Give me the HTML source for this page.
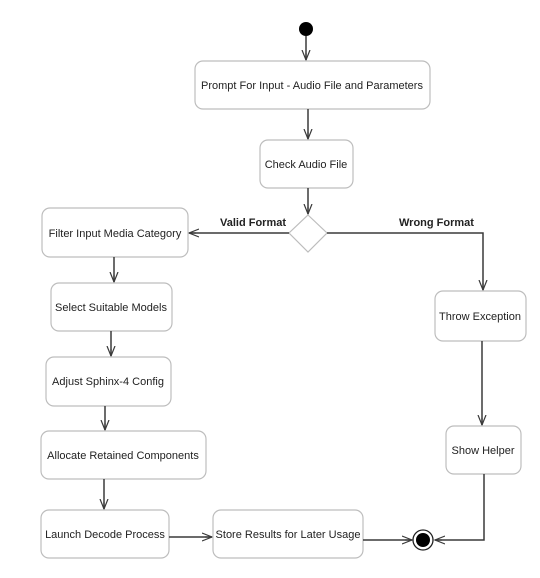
<!DOCTYPE html>
<html><head><meta charset="utf-8"><style>
html,body{margin:0;padding:0;background:#fff;}
svg{display:block;}
text{font-family:"Liberation Sans",sans-serif;font-size:11px;fill:#222;}
.b{fill:#fff;stroke:#bdbdbd;stroke-width:1.2;}
.l{stroke:#3a3a3a;stroke-width:1.5;fill:none;}
</style></head><body>
<svg width="540" height="578" viewBox="0 0 540 578">
<defs>
<marker id="a" markerWidth="12" markerHeight="10" refX="10" refY="5" orient="auto" markerUnits="userSpaceOnUse">
<path d="M0,1 L10,5 L0,9 M3,5 L10,5" stroke="#3a3a3a" stroke-width="1.2" fill="none"/>
</marker>
</defs>
<rect width="540" height="578" fill="#fff"/>
<!-- start -->
<circle cx="306" cy="29" r="7" fill="#000"/>
<path class="l" d="M306,36 V60" marker-end="url(#a)"/>
<!-- boxes -->
<rect class="b" x="195" y="61" width="235" height="48" rx="8"/>
<text x="312" y="89" text-anchor="middle">Prompt For Input - Audio File and Parameters</text>
<path class="l" d="M308,109 V139" marker-end="url(#a)"/>
<rect class="b" x="260" y="140" width="93" height="48" rx="8"/>
<text x="306" y="168" text-anchor="middle">Check Audio File</text>
<path class="l" d="M308,188 V214" marker-end="url(#a)"/>
<polygon points="308,215 327,233 308,252 289,233" fill="#fff" stroke="#bdbdbd" stroke-width="1.2"/>
<path class="l" d="M289,233 H189" marker-end="url(#a)"/>
<text x="220" y="226" font-weight="bold">Valid Format</text>
<path class="l" d="M327,233 H483 V290" marker-end="url(#a)"/>
<text x="399" y="226" font-weight="bold">Wrong Format</text>
<rect class="b" x="42" y="208" width="146" height="49" rx="8"/>
<text x="115" y="237" text-anchor="middle">Filter Input Media Category</text>
<path class="l" d="M114,257 V282" marker-end="url(#a)"/>
<rect class="b" x="51" y="283" width="121" height="48" rx="8"/>
<text x="111" y="311" text-anchor="middle">Select Suitable Models</text>
<path class="l" d="M111,331 V356" marker-end="url(#a)"/>
<rect class="b" x="46" y="357" width="125" height="49" rx="8"/>
<text x="108" y="385" text-anchor="middle">Adjust Sphinx-4 Config</text>
<path class="l" d="M105,406 V430" marker-end="url(#a)"/>
<rect class="b" x="41" y="431" width="165" height="48" rx="8"/>
<text x="123" y="459" text-anchor="middle">Allocate Retained Components</text>
<path class="l" d="M104,479 V509" marker-end="url(#a)"/>
<rect class="b" x="41" y="510" width="128" height="48" rx="8"/>
<text x="105" y="538" text-anchor="middle">Launch Decode Process</text>
<path class="l" d="M169,537 H212" marker-end="url(#a)"/>
<rect class="b" x="213" y="510" width="150" height="48" rx="8"/>
<text x="288" y="538" text-anchor="middle">Store Results for Later Usage</text>
<path class="l" d="M363,540 H412" marker-end="url(#a)"/>
<rect class="b" x="435" y="291" width="91" height="50" rx="8"/>
<text x="480" y="320" text-anchor="middle">Throw Exception</text>
<path class="l" d="M482,341 V425" marker-end="url(#a)"/>
<rect class="b" x="446" y="426" width="75" height="48" rx="8"/>
<text x="483" y="454" text-anchor="middle">Show Helper</text>
<path class="l" d="M484,474 V540 H435" marker-end="url(#a)"/>
<!-- end -->
<circle cx="423" cy="540" r="10" fill="#fff" stroke="#222" stroke-width="1.3"/>
<circle cx="423" cy="540" r="7" fill="#000"/>
</svg>
</body></html>
